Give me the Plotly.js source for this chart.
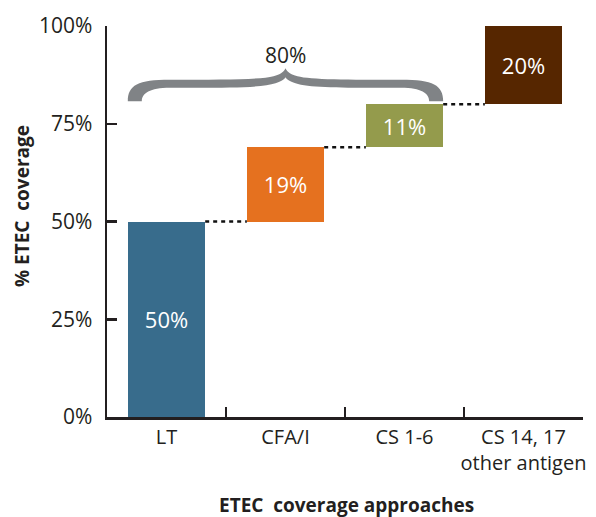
<!DOCTYPE html>
<html>
<head>
<meta charset="utf-8">
<script src="https://cdn.plot.ly/plotly-3.0.1.min.js"></script>
<style>html,body{margin:0;padding:0;background:#fff;}#chart{width:596px;height:517px;}</style>
</head>
<body>
<div id="chart"></div>
<script>
// ---- data ----
var categories = ["LT", "CFA/I", "CS 1-6", "CS 14, 17<br>other antigen"];
var increments = [50, 19, 11, 20];
var barLabels = ["50%", "19%", "11%", "20%"];
var barColors = ["#386c8c", "#e5711f", "#949b4c", "#562600"];
var yTickVals = [0, 25, 50, 75, 100];
var yTickText = ["0%", "25%", "50%", "75%", "100%"];
var braceLabel = "80%";
var braceCount = 3; // brace spans the first three bars

// ---- layout constants ----
var W = 596, H = 517;
var M = {l: 107, r: 13, t: 26, b: 100};
var plotW = W - M.l - M.r, plotH = H - M.t - M.b;
var barWidth = 0.65;
var xRange = [-0.5, categories.length - 0.5];
var yRange = [0, 100];
var pxX = (xRange[1] - xRange[0]) / plotW;  // data units per pixel
var pxY = (yRange[1] - yRange[0]) / plotH;
var FONT = "Open Sans, sans-serif";

// bases from cumulative sums
var bases = [];
var cum = 0;
for (var i = 0; i < increments.length; i++) { bases.push(cum); cum += increments[i]; }
var xIdx = categories.map(function (c, i) { return i; });

var trace = {
  type: "bar",
  x: xIdx,
  y: increments,
  base: bases,
  width: barWidth,
  marker: {color: barColors, line: {width: 0}},
  text: barLabels,
  textposition: "inside",
  insidetextanchor: "middle",
  textangle: 0,
  constraintext: "none",
  textfont: {family: FONT, size: 22, color: "#ffffff"},
  hoverinfo: "skip",
  showlegend: false
};

var shapes = [];
// dotted connectors between bars
for (var j = 0; j < increments.length - 1; j++) {
  var level = bases[j] + increments[j];
  shapes.push({
    type: "line", xref: "x", yref: "y",
    x0: xIdx[j] + barWidth / 2, x1: xIdx[j + 1] - barWidth / 2,
    y0: level, y1: level,
    line: {color: "#111111", width: 2.5, dash: "4px,4px"}
  });
}

// curly brace over first three bars
var bLeft = xIdx[0] - barWidth / 2;
var bRight = xIdx[braceCount - 1] + barWidth / 2;
var bCenter = (bLeft + bRight) / 2;
var halfPx = (bRight - bLeft) / 2 / pxX;
var bTop = bases[braceCount - 1] + increments[braceCount - 1];
function P(u, dyUp) { // u: px offset from center, dyUp: px above bar top
  return (bCenter + u * pxX).toFixed(4) + "," + (bTop + dyUp * pxY).toFixed(4);
}
var h = halfPx, t = 14;
var pts = [
  "M" + P(-h, 3),
  "C" + P(-h, 19) + " " + P(-h + 10, 24.5) + " " + P(-h + 42, 24.5),
  "C" + P(-62, 24.5) + " " + P(-25, 24.5) + " " + P(-12, 28),
  "C" + P(-5, 30) + " " + P(-2, 32) + " " + P(0, 36),
  "C" + P(2, 32) + " " + P(5, 30) + " " + P(12, 28),
  "C" + P(25, 24.5) + " " + P(62, 24.5) + " " + P(h - 42, 24.5),
  "C" + P(h - 10, 24.5) + " " + P(h, 19) + " " + P(h, 3),
  "L" + P(h - t, 3),
  "C" + P(h - t, 11) + " " + P(h - 22, 16.5) + " " + P(h - 42, 16.5),
  "C" + P(62, 16.5) + " " + P(25, 16) + " " + P(10, 21),
  "C" + P(4, 23) + " " + P(1, 25) + " " + P(0, 27),
  "C" + P(-1, 25) + " " + P(-4, 23) + " " + P(-10, 21),
  "C" + P(-25, 16) + " " + P(-62, 16.5) + " " + P(-h + 42, 16.5),
  "C" + P(-h + 22, 16.5) + " " + P(-h + t, 11) + " " + P(-h + t, 3),
  "Z"
].join(" ");
shapes.push({
  type: "path", xref: "x", yref: "y", path: pts,
  fillcolor: "#808386", line: {width: 0}, layer: "above"
});

var annotations = [
  {
    xref: "x", yref: "y", x: bCenter, y: bTop + 49 * pxY,
    text: braceLabel, showarrow: false, xanchor: "center", yanchor: "middle",
    font: {family: FONT, size: 21, color: "#231f20"}
  },
  {
    xref: "paper", yref: "paper", x: (22 - M.l) / plotW, y: (H - M.b - 206) / plotH,
    text: "<b>% ETEC\u00a0 coverage</b>", showarrow: false, textangle: -90,
    xanchor: "center", yanchor: "middle",
    font: {family: FONT, size: 19, color: "#231f20"}
  },
  {
    xref: "paper", yref: "paper", x: (346 - M.l) / plotW, y: (H - M.b - 505) / plotH,
    text: "<b>ETEC\u00a0 coverage approaches</b>", showarrow: false,
    xanchor: "center", yanchor: "middle",
    font: {family: FONT, size: 19, color: "#231f20"}
  }
];

var layout = {
  width: W, height: H,
  margin: M,
  paper_bgcolor: "#ffffff", plot_bgcolor: "#ffffff",
  font: {family: FONT, size: 18, color: "#231f20"},
  showlegend: false,
  xaxis: {
    type: "linear", range: xRange,
    tickmode: "array", tickvals: xIdx, ticktext: categories,
    ticks: "", showgrid: false, zeroline: false,
    showline: true, linecolor: "#231f20", linewidth: 2.5,
    tickfont: {family: FONT, size: 20, color: "#231f20"},
    fixedrange: true
  },
  xaxis2: {
    overlaying: "x", matches: "x", range: xRange, type: "linear",
    tickmode: "array", tickvals: [0.5, 1.5, 2.5, 3.5], ticktext: ["", "", "", ""],
    ticks: "inside", ticklen: 10, tickwidth: 2, tickcolor: "#231f20",
    showgrid: false, zeroline: false, showline: false, side: "bottom", anchor: "y"
  },
  yaxis: {
    range: yRange, tickmode: "array", tickvals: yTickVals, ticktext: yTickText,
    ticks: "inside", ticklen: 10, tickwidth: 2.5, tickcolor: "#231f20",
    showgrid: false, zeroline: false,
    showline: true, linecolor: "#231f20", linewidth: 2.5,
    tickfont: {family: FONT, size: 21, color: "#231f20"},
    ticklabelstandoff: 8,
    fixedrange: true
  },
  shapes: shapes,
  annotations: annotations,
  bargap: 0
};

var dummy = {type: "scatter", x: [0], y: [0], xaxis: "x2", yaxis: "y", mode: "markers",
  marker: {opacity: 0}, hoverinfo: "skip", showlegend: false};

Plotly.newPlot("chart", [trace, dummy], layout, {displayModeBar: false, staticPlot: true});
</script>
</body>
</html>
